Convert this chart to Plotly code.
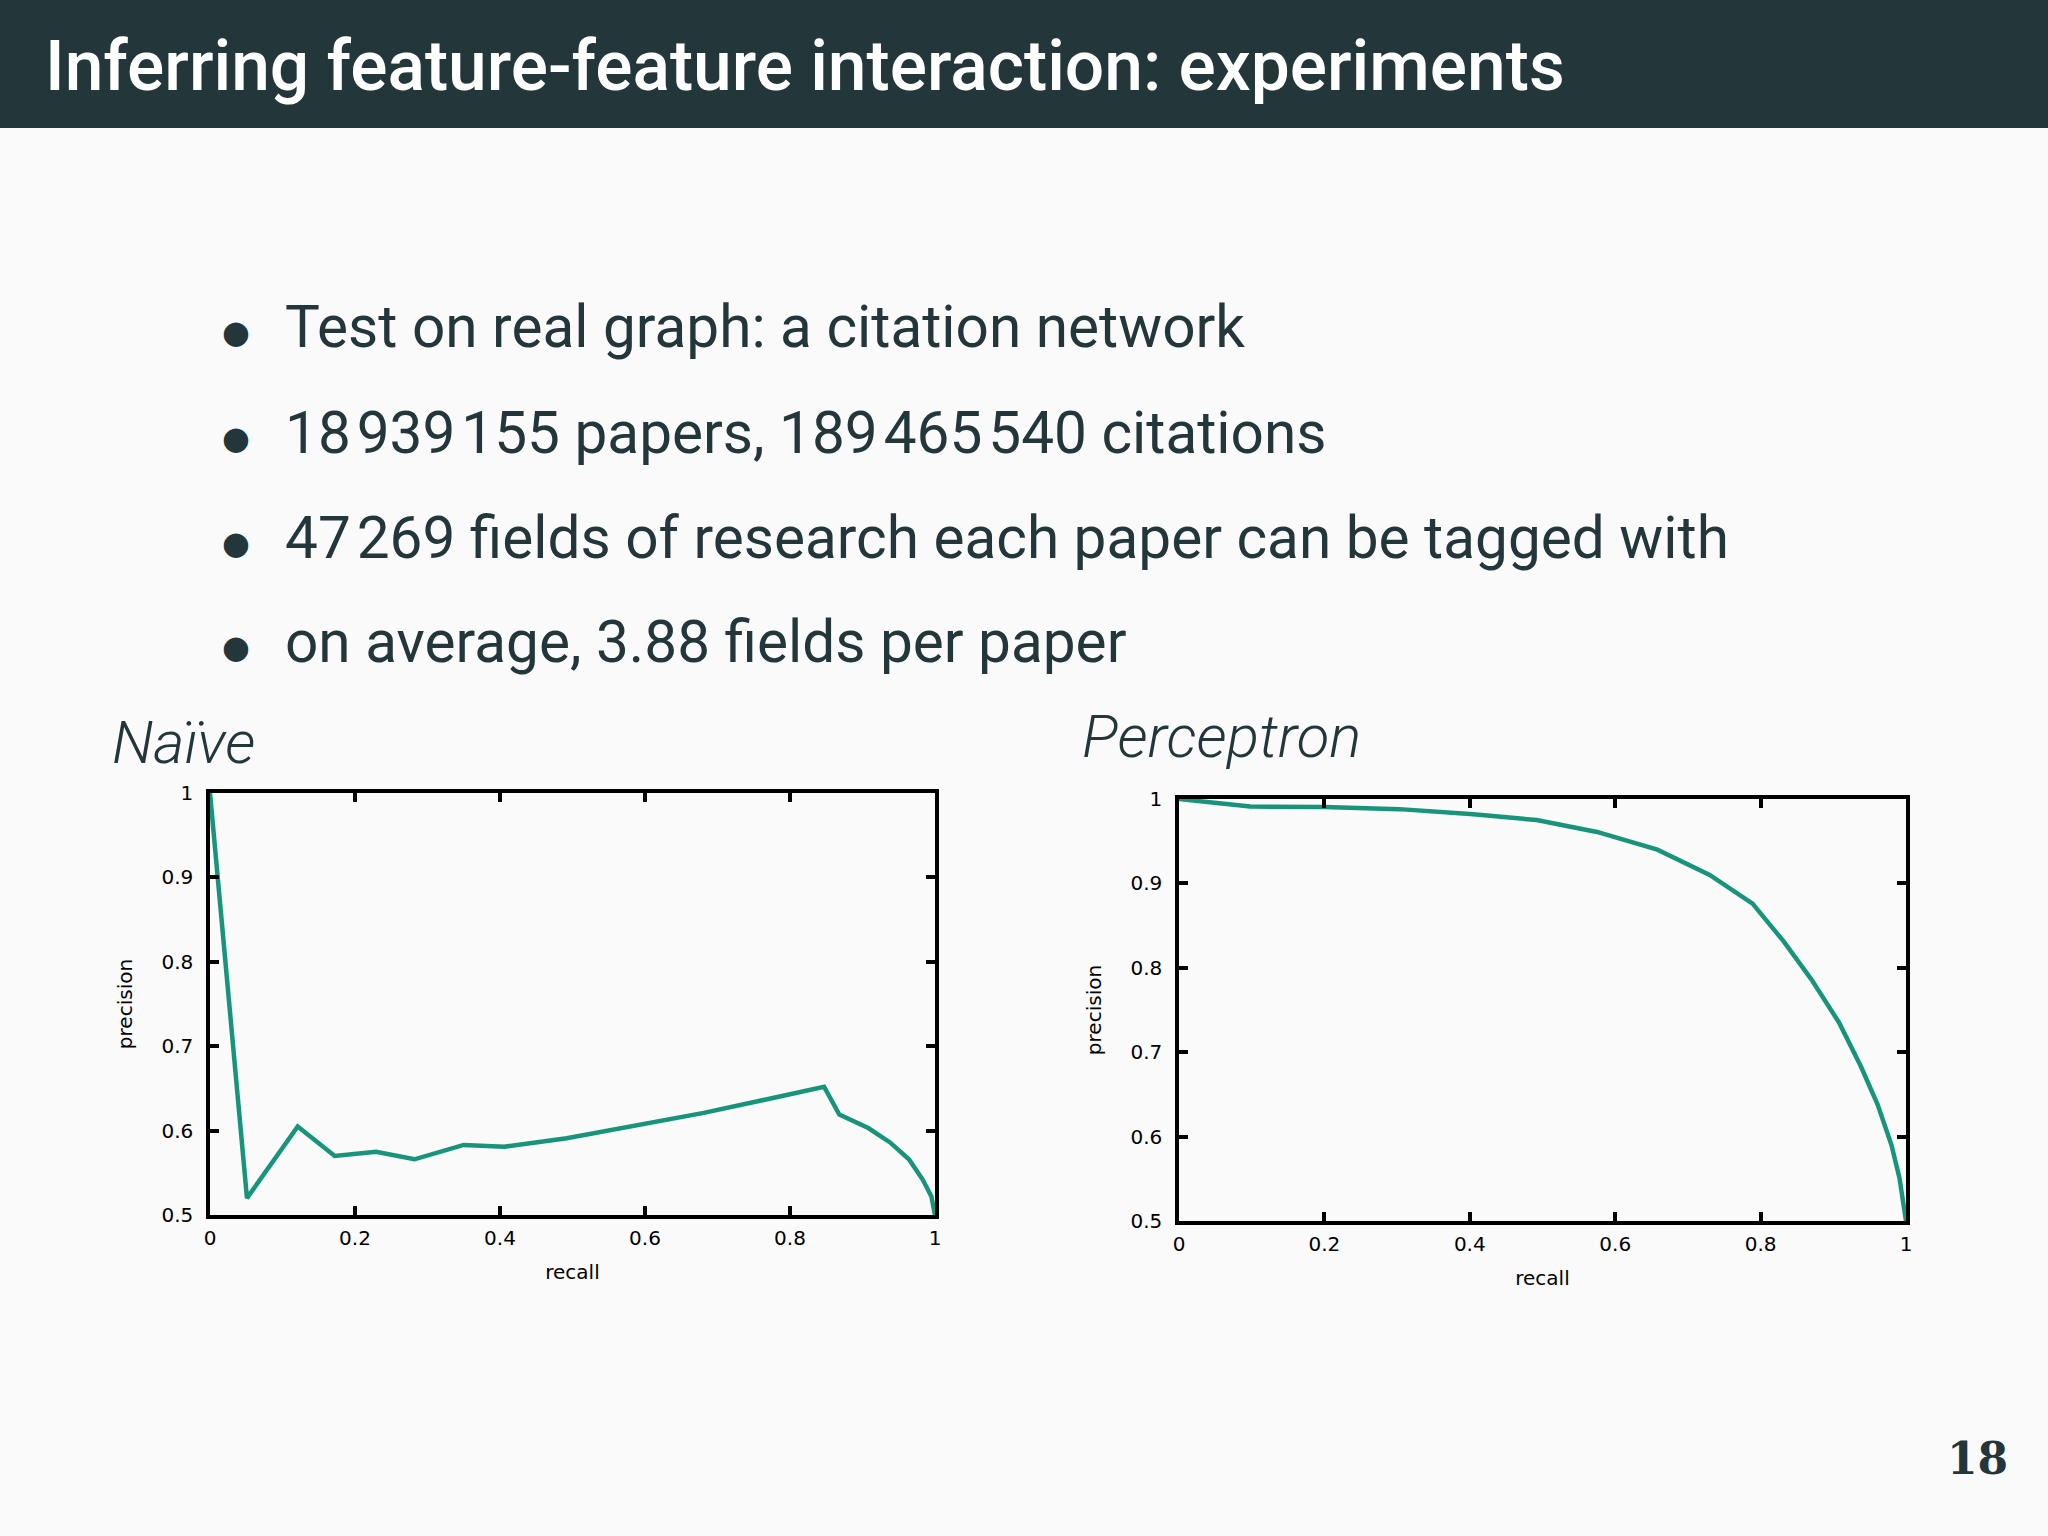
import plotly.graph_objects as go

# ---- data ----
naive_recall = [0.0, 0.051, 0.121, 0.172, 0.229, 0.282, 0.350, 0.406, 0.492, 0.605,
                0.681, 0.757, 0.847, 0.868, 0.908, 0.938, 0.964, 0.983, 0.995, 1.0]
naive_precision = [1.0, 0.520, 0.605, 0.570, 0.575, 0.566, 0.583, 0.581, 0.591, 0.609,
                   0.621, 0.635, 0.652, 0.619, 0.603, 0.586, 0.566, 0.542, 0.522, 0.5]

perc_recall = [0.0, 0.098, 0.2, 0.303, 0.405, 0.492, 0.575, 0.658, 0.730, 0.789,
               0.832, 0.870, 0.908, 0.938, 0.961, 0.980, 0.991, 1.0]
perc_precision = [1.0, 0.991, 0.9905, 0.988, 0.982, 0.975, 0.961, 0.940, 0.910, 0.876,
                  0.831, 0.786, 0.735, 0.683, 0.638, 0.590, 0.551, 0.5]

x_ticks = [0, 0.2, 0.4, 0.6, 0.8, 1]
x_ticklabels = ["0", "0.2", "0.4", "0.6", "0.8", "1"]
y_ticks = [0.5, 0.6, 0.7, 0.8, 0.9, 1]
y_ticklabels = ["0.5", "0.6", "0.7", "0.8", "0.9", "1"]

title_text = "Inferring feature-feature interaction: experiments"
bullets = [
    "Test on real graph: a citation network",
    "18\u200a939\u200a155 papers, 189\u200a465\u200a540 citations",
    "47\u200a269 fields of research each paper can be tagged with",
    "on average, 3.88 fields per paper",
]
panel_titles = ["Naïve", "Perceptron"]
page_number = "18"

# ---- figure ----
W, H = 2048, 1536
BG = "#fafafb"
DARK = "#23373b"
LINE = "#17947a"

def py(px):
    return 1 - px / H

def pxx(px):
    return px / W

fig = go.Figure()
fig.add_trace(go.Scatter(x=naive_recall, y=naive_precision, mode="lines",
                         line=dict(color=LINE, width=4.5), xaxis="x", yaxis="y",
                         showlegend=False))
fig.add_trace(go.Scatter(x=perc_recall, y=perc_precision, mode="lines",
                         line=dict(color=LINE, width=4.5), xaxis="x2", yaxis="y2",
                         showlegend=False))

tickfont = dict(family="DejaVu Sans", size=20, color="#000000")
axtitle_font = dict(family="DejaVu Sans", size=20, color="#000")
axis_common = dict(showline=True, linecolor="#000000", linewidth=3.5, mirror="ticks",
                   ticks="inside", ticklen=9, tickwidth=3.5, tickcolor="#000000",
                   showgrid=False, zeroline=False, tickfont=tickfont, automargin=False)

fig.update_layout(
    template="none",
    width=W, height=H,
    margin=dict(l=0, r=0, t=0, b=0, pad=0, autoexpand=False),
    paper_bgcolor=BG, plot_bgcolor=BG,
    xaxis=dict(domain=[pxx(210), pxx(935)], range=[0, 1], anchor="y",
               tickvals=x_ticks, ticktext=x_ticklabels, ticklabelstandoff=2,
               title=dict(text="recall", font=axtitle_font, standoff=17),
               **axis_common),
    yaxis=dict(domain=[py(1215), py(793)], range=[0.5, 1], anchor="x",
               tickvals=y_ticks, ticktext=y_ticklabels, ticklabelstandoff=9,
               title=dict(text="precision", font=axtitle_font, standoff=24),
               **axis_common),
    xaxis2=dict(domain=[pxx(1179), pxx(1906)], range=[0, 1], anchor="y2",
                tickvals=x_ticks, ticktext=x_ticklabels, ticklabelstandoff=2,
                title=dict(text="recall", font=axtitle_font, standoff=17),
                **axis_common),
    yaxis2=dict(domain=[py(1221), py(799)], range=[0.5, 1], anchor="x2",
                tickvals=y_ticks, ticktext=y_ticklabels, ticklabelstandoff=9,
                title=dict(text="precision", font=axtitle_font, standoff=24),
                **axis_common),
)

# title bar
fig.add_shape(type="rect", xref="paper", yref="paper", x0=0, x1=1, y0=py(128), y1=1,
              fillcolor=DARK, line=dict(width=0), layer="below")

annotations = []
annotations.append(dict(text=title_text, x=pxx(43), y=py(66), xref="paper", yref="paper",
                        xanchor="left", yanchor="middle", showarrow=False,
                        font=dict(family="Roboto", size=69.5, color="#ffffff", weight=500)))

bullet_y = [327, 433, 538, 642]
for txt, yy in zip(bullets, bullet_y):
    annotations.append(dict(text="\u25cf", x=pxx(236), y=py(yy + 5), xref="paper", yref="paper",
                            xanchor="center", yanchor="middle", showarrow=False,
                            font=dict(family="DejaVu Sans", size=32, color=DARK)))
    annotations.append(dict(text=txt, x=pxx(283), y=py(yy), xref="paper", yref="paper",
                            xanchor="left", yanchor="middle", showarrow=False,
                            font=dict(family="Roboto", size=58.5, color=DARK, weight=400)))

annotations.append(dict(text="<i>" + panel_titles[0] + "</i>", x=pxx(110), y=py(742), xref="paper",
                        yref="paper", xanchor="left", yanchor="middle", showarrow=False,
                        font=dict(family="Roboto", size=60, color=DARK, weight=300)))
annotations.append(dict(text="<i>" + panel_titles[1] + "</i>", x=pxx(1080), y=py(736), xref="paper",
                        yref="paper", xanchor="left", yanchor="middle", showarrow=False,
                        font=dict(family="Roboto", size=60, color=DARK, weight=300)))
annotations.append(dict(text="<b>" + page_number + "</b>", x=pxx(1977), y=py(1458), xref="paper",
                        yref="paper", xanchor="center", yanchor="middle", showarrow=False,
                        font=dict(family="DejaVu Serif", size=44, color=DARK)))

fig.update_layout(annotations=annotations)
fig.write_html("out.html", config={"displayModeBar": False},
               post_script="document.body.style.margin='0';document.body.style.overflow='hidden';"
                           "document.documentElement.style.overflow='hidden';")
